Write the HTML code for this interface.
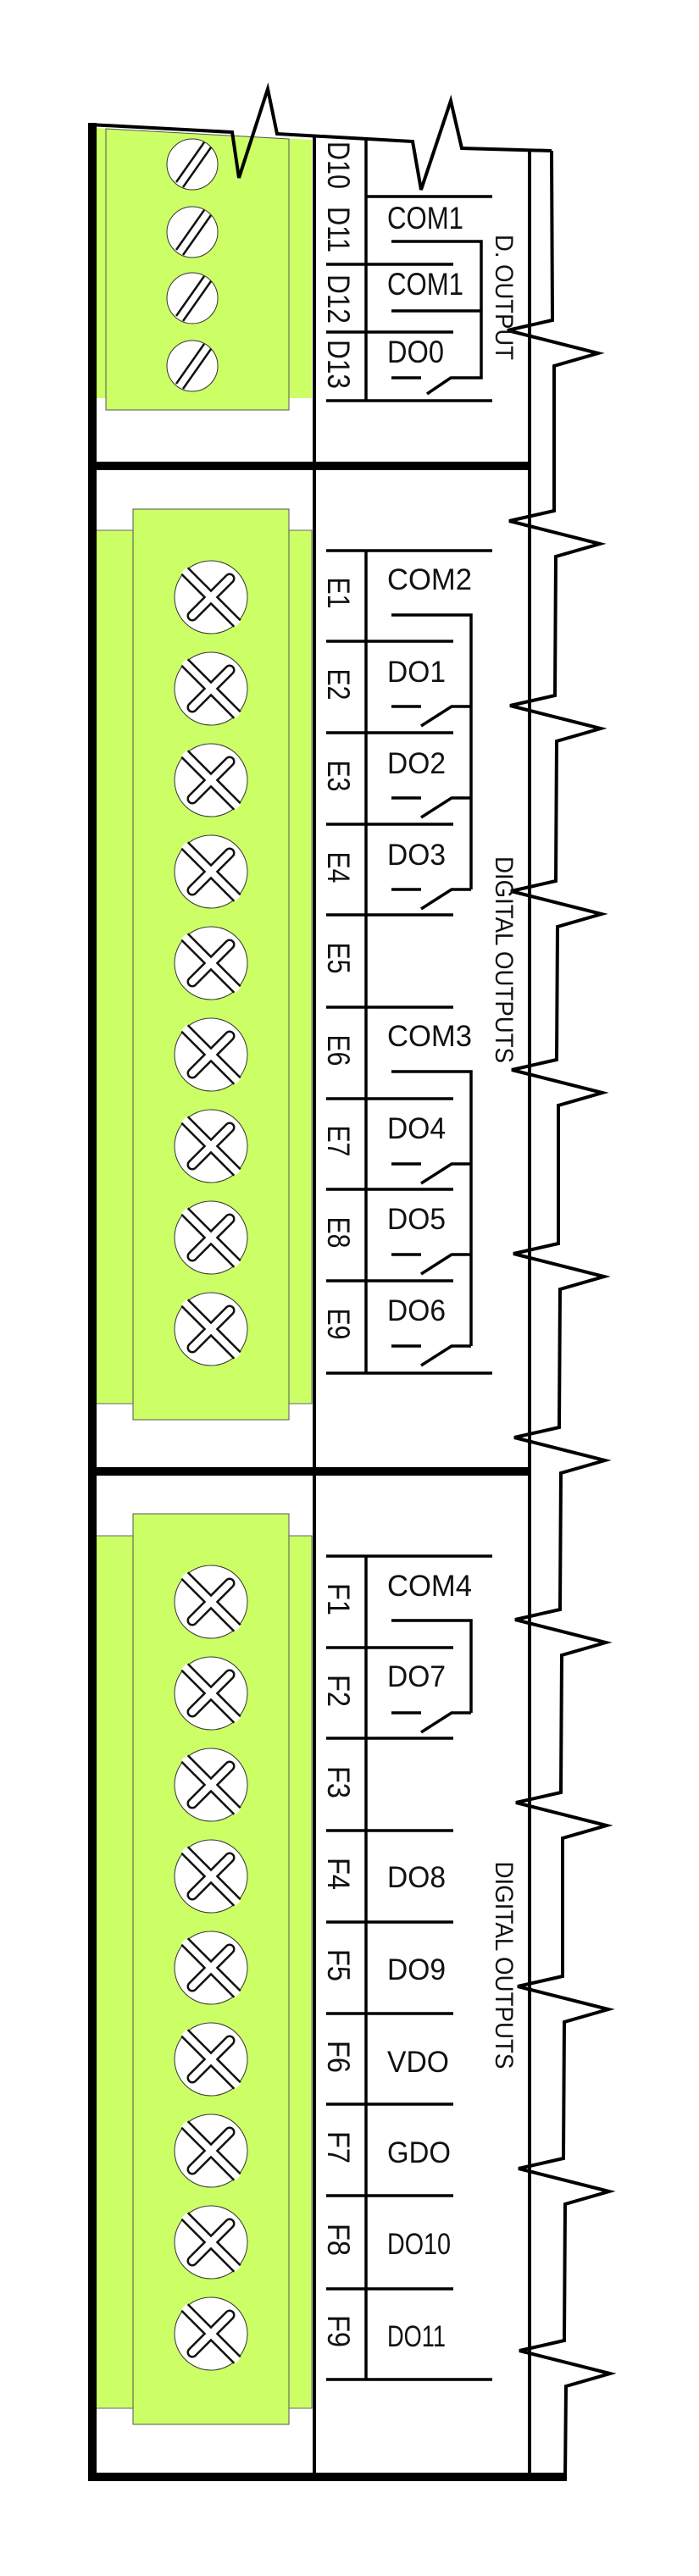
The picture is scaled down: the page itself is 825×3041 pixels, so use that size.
<!DOCTYPE html>
<html><head><meta charset="utf-8"><style>
html,body{margin:0;padding:0;background:#fff;}
svg{display:block;}
text{font-family:"Liberation Sans",Arial,sans-serif;fill:#111;}
</style></head><body>
<svg width="825" height="3041" viewBox="0 0 825 3041" xmlns="http://www.w3.org/2000/svg">
<defs>
<g id="scr">
<circle r="43" fill="#fff" stroke="#333" stroke-width="1"/>
<line x1="-31" y1="-31" x2="31" y2="31" stroke="#111" stroke-width="13"/>
<line x1="22" y1="-22" x2="-22" y2="22" stroke="#111" stroke-width="13" stroke-linecap="round"/>
<line x1="-32" y1="-32" x2="32" y2="32" stroke="#fff" stroke-width="8"/>
<line x1="22" y1="-22" x2="-22" y2="22" stroke="#fff" stroke-width="8" stroke-linecap="round"/>
</g>
<g id="ss">
<circle r="30" fill="#fff" stroke="#333" stroke-width="1"/>
<line x1="14" y1="-26" x2="-19" y2="21" stroke="#111" stroke-width="2.5"/>
<line x1="22" y1="-20" x2="-11" y2="27" stroke="#111" stroke-width="2.5"/>
</g>
</defs>

<!-- green section 1 -->
<polygon points="113,151 368,165 368,470 113,470" fill="#ccff66"/>
<polygon points="125,152 341,164 341,484 125,484" fill="#ccff66" stroke="#555" stroke-width="1"/>
<use href="#ss" x="227" y="194"/>
<use href="#ss" x="227" y="274"/>
<use href="#ss" x="227" y="352"/>
<use href="#ss" x="227" y="432"/>

<!-- green section 2 -->
<rect x="113" y="626" width="255" height="1031" fill="#ccff66" stroke="#666" stroke-width="1"/>
<rect x="157" y="601" width="184" height="1075" fill="#ccff66" stroke="#555" stroke-width="1"/>
<use href="#scr" x="249" y="705"/><use href="#scr" x="249" y="813"/><use href="#scr" x="249" y="921"/>
<use href="#scr" x="249" y="1029"/><use href="#scr" x="249" y="1137"/><use href="#scr" x="249" y="1245"/>
<use href="#scr" x="249" y="1353"/><use href="#scr" x="249" y="1461"/><use href="#scr" x="249" y="1569"/>

<!-- green section 3 -->
<rect x="113" y="1813" width="255" height="1030" fill="#ccff66" stroke="#666" stroke-width="1"/>
<rect x="157" y="1787" width="184" height="1075" fill="#ccff66" stroke="#555" stroke-width="1"/>
<use href="#scr" x="249" y="1891"/><use href="#scr" x="249" y="1999"/><use href="#scr" x="249" y="2107"/>
<use href="#scr" x="249" y="2215"/><use href="#scr" x="249" y="2323"/><use href="#scr" x="249" y="2431"/>
<use href="#scr" x="249" y="2539"/><use href="#scr" x="249" y="2647"/><use href="#scr" x="249" y="2755"/>

<!-- frame -->
<g stroke="#000" fill="none">
<line x1="109" y1="145" x2="109" y2="2929" stroke-width="10"/>
<line x1="104" y1="2924" x2="669" y2="2924" stroke-width="10"/>
<line x1="109" y1="550" x2="627" y2="550" stroke-width="10"/>
<line x1="109" y1="1737" x2="627" y2="1737" stroke-width="10"/>
<line x1="371" y1="162" x2="371" y2="2924" stroke-width="4"/>
<line x1="625" y1="177" x2="625" y2="2924" stroke-width="4"/>
<polyline stroke-width="4" points="105,147 274,156 282,210 316,105 327,158 487,167 497,224 532,119 545,175 651,178"/>
<polyline stroke-width="4" points="651,178 652,378 599,390 706,417 654,432 654,603 601,615 708,642 656,657 655,821 602,833 709,860 657,875 656,1040 603,1052 710,1079 658,1094 657,1251 604,1263 711,1290 659,1305 659,1468 606,1480 713,1507 661,1522 660,1685 607,1697 714,1724 662,1739 661,1900 608,1912 715,1939 663,1954 662,2116 609,2128 716,2155 664,2170 664,2333 611,2345 718,2372 666,2387 665,2548 612,2560 719,2587 667,2602 666,2763 613,2775 720,2802 668,2817 667,2928"/>
</g>

<!-- section 1 terminal lines -->
<g stroke="#000" stroke-width="3.5" fill="none">
<line x1="432" y1="165" x2="432" y2="473"/>
<line x1="432" y1="232" x2="581" y2="232"/>
<line x1="385" y1="312" x2="535" y2="312"/>
<line x1="385" y1="392" x2="535" y2="392"/>
<line x1="385" y1="473" x2="581" y2="473"/>
<polyline points="462,285 568,285 568,446 532,446 504,465"/>
<line x1="462" y1="367" x2="568" y2="367"/>
<line x1="462" y1="446" x2="497" y2="446"/>
</g>
<text x="457" y="270" font-size="37" textLength="90" lengthAdjust="spacingAndGlyphs">COM1</text>
<text x="457" y="348" font-size="37" textLength="90" lengthAdjust="spacingAndGlyphs">COM1</text>
<text x="457" y="428" font-size="37" textLength="67" lengthAdjust="spacingAndGlyphs">DO0</text>
<g font-size="37" text-anchor="middle">
<text x="387" y="195" transform="rotate(90 387 195)" textLength="56" lengthAdjust="spacingAndGlyphs">D10</text>
<text x="387" y="271" transform="rotate(90 387 271)" textLength="54" lengthAdjust="spacingAndGlyphs">D11</text>
<text x="387" y="353" transform="rotate(90 387 353)" textLength="58" lengthAdjust="spacingAndGlyphs">D12</text>
<text x="387" y="430" transform="rotate(90 387 430)" textLength="58" lengthAdjust="spacingAndGlyphs">D13</text>
</g>
<text x="585" y="351" font-size="30" text-anchor="middle" transform="rotate(90 585 351)" textLength="148" lengthAdjust="spacingAndGlyphs">D. OUTPUT</text>

<!-- section 2 terminal lines -->
<g stroke="#000" stroke-width="3.5" fill="none">
<line x1="432" y1="650" x2="432" y2="1621"/>
<line x1="385" y1="650" x2="581" y2="650"/>
<line x1="385" y1="1621" x2="581" y2="1621"/>
<line x1="385" y1="757" x2="535" y2="757"/><line x1="385" y1="865" x2="535" y2="865"/>
<line x1="385" y1="973" x2="535" y2="973"/><line x1="385" y1="1080" x2="535" y2="1080"/>
<line x1="385" y1="1189" x2="535" y2="1189"/><line x1="385" y1="1297" x2="535" y2="1297"/>
<line x1="385" y1="1404" x2="535" y2="1404"/><line x1="385" y1="1512" x2="535" y2="1512"/>
<polyline points="462,726 556,726 556,1050"/>
<line x1="462" y1="834" x2="497" y2="834"/><polyline points="497,857 533,834 556,834"/>
<line x1="462" y1="942" x2="497" y2="942"/><polyline points="497,965 533,942 556,942"/>
<line x1="462" y1="1050" x2="497" y2="1050"/><polyline points="497,1073 533,1050 556,1050"/>
<polyline points="462,1265 556,1265 556,1589"/>
<line x1="462" y1="1374" x2="497" y2="1374"/><polyline points="497,1397 533,1374 556,1374"/>
<line x1="462" y1="1481" x2="497" y2="1481"/><polyline points="497,1504 533,1481 556,1481"/>
<line x1="462" y1="1589" x2="497" y2="1589"/><polyline points="497,1612 533,1589 556,1589"/>
</g>
<g font-size="35">
<text x="457" y="696" textLength="100" lengthAdjust="spacingAndGlyphs">COM2</text>
<text x="457" y="805" textLength="69" lengthAdjust="spacingAndGlyphs">DO1</text>
<text x="457" y="913" textLength="69" lengthAdjust="spacingAndGlyphs">DO2</text>
<text x="457" y="1021" textLength="69" lengthAdjust="spacingAndGlyphs">DO3</text>
<text x="457" y="1235" textLength="100" lengthAdjust="spacingAndGlyphs">COM3</text>
<text x="457" y="1344" textLength="69" lengthAdjust="spacingAndGlyphs">DO4</text>
<text x="457" y="1451" textLength="69" lengthAdjust="spacingAndGlyphs">DO5</text>
<text x="457" y="1559" textLength="69" lengthAdjust="spacingAndGlyphs">DO6</text>
</g>
<g font-size="37" text-anchor="middle">
<text x="387" y="700" transform="rotate(90 387 700)" textLength="37" lengthAdjust="spacingAndGlyphs">E1</text>
<text x="387" y="808" transform="rotate(90 387 808)" textLength="37" lengthAdjust="spacingAndGlyphs">E2</text>
<text x="387" y="916" transform="rotate(90 387 916)" textLength="37" lengthAdjust="spacingAndGlyphs">E3</text>
<text x="387" y="1024" transform="rotate(90 387 1024)" textLength="37" lengthAdjust="spacingAndGlyphs">E4</text>
<text x="387" y="1131" transform="rotate(90 387 1131)" textLength="37" lengthAdjust="spacingAndGlyphs">E5</text>
<text x="387" y="1240" transform="rotate(90 387 1240)" textLength="37" lengthAdjust="spacingAndGlyphs">E6</text>
<text x="387" y="1347" transform="rotate(90 387 1347)" textLength="37" lengthAdjust="spacingAndGlyphs">E7</text>
<text x="387" y="1455" transform="rotate(90 387 1455)" textLength="37" lengthAdjust="spacingAndGlyphs">E8</text>
<text x="387" y="1563" transform="rotate(90 387 1563)" textLength="37" lengthAdjust="spacingAndGlyphs">E9</text>
</g>
<text x="585" y="1133" font-size="30" text-anchor="middle" transform="rotate(90 585 1133)" textLength="244" lengthAdjust="spacingAndGlyphs">DIGITAL OUTPUTS</text>

<!-- section 3 terminal lines -->
<g stroke="#000" stroke-width="3.5" fill="none">
<line x1="432" y1="1837" x2="432" y2="2809"/>
<line x1="385" y1="1837" x2="581" y2="1837"/>
<line x1="385" y1="2809" x2="581" y2="2809"/>
<line x1="385" y1="1945" x2="535" y2="1945"/><line x1="385" y1="2052" x2="535" y2="2052"/>
<line x1="385" y1="2161" x2="535" y2="2161"/><line x1="385" y1="2269" x2="535" y2="2269"/>
<line x1="385" y1="2377" x2="535" y2="2377"/><line x1="385" y1="2484" x2="535" y2="2484"/>
<line x1="385" y1="2592" x2="535" y2="2592"/><line x1="385" y1="2702" x2="535" y2="2702"/>
<polyline points="462,1913 556,1913 556,2022"/>
<line x1="462" y1="2022" x2="497" y2="2022"/><polyline points="497,2045 533,2022 556,2022"/>
</g>
<g font-size="35">
<text x="457" y="1884" textLength="100" lengthAdjust="spacingAndGlyphs">COM4</text>
<text x="457" y="1991" textLength="69" lengthAdjust="spacingAndGlyphs">DO7</text>
<text x="457" y="2228" textLength="69" lengthAdjust="spacingAndGlyphs">DO8</text>
<text x="457" y="2337" textLength="69" lengthAdjust="spacingAndGlyphs">DO9</text>
<text x="457" y="2446" textLength="73" lengthAdjust="spacingAndGlyphs">VDO</text>
<text x="457" y="2553" textLength="75" lengthAdjust="spacingAndGlyphs">GDO</text>
<text x="457" y="2661" textLength="75" lengthAdjust="spacingAndGlyphs">DO10</text>
<text x="457" y="2770" textLength="69" lengthAdjust="spacingAndGlyphs">DO11</text>
</g>
<g font-size="37" text-anchor="middle">
<text x="387" y="1888" transform="rotate(90 387 1888)" textLength="38" lengthAdjust="spacingAndGlyphs">F1</text>
<text x="387" y="1996" transform="rotate(90 387 1996)" textLength="38" lengthAdjust="spacingAndGlyphs">F2</text>
<text x="387" y="2104" transform="rotate(90 387 2104)" textLength="38" lengthAdjust="spacingAndGlyphs">F3</text>
<text x="387" y="2212" transform="rotate(90 387 2212)" textLength="38" lengthAdjust="spacingAndGlyphs">F4</text>
<text x="387" y="2320" transform="rotate(90 387 2320)" textLength="38" lengthAdjust="spacingAndGlyphs">F5</text>
<text x="387" y="2428" transform="rotate(90 387 2428)" textLength="38" lengthAdjust="spacingAndGlyphs">F6</text>
<text x="387" y="2535" transform="rotate(90 387 2535)" textLength="38" lengthAdjust="spacingAndGlyphs">F7</text>
<text x="387" y="2644" transform="rotate(90 387 2644)" textLength="38" lengthAdjust="spacingAndGlyphs">F8</text>
<text x="387" y="2752" transform="rotate(90 387 2752)" textLength="38" lengthAdjust="spacingAndGlyphs">F9</text>
</g>
<text x="585" y="2320" font-size="30" text-anchor="middle" transform="rotate(90 585 2320)" textLength="245" lengthAdjust="spacingAndGlyphs">DIGITAL OUTPUTS</text>
</svg>
</body></html>
